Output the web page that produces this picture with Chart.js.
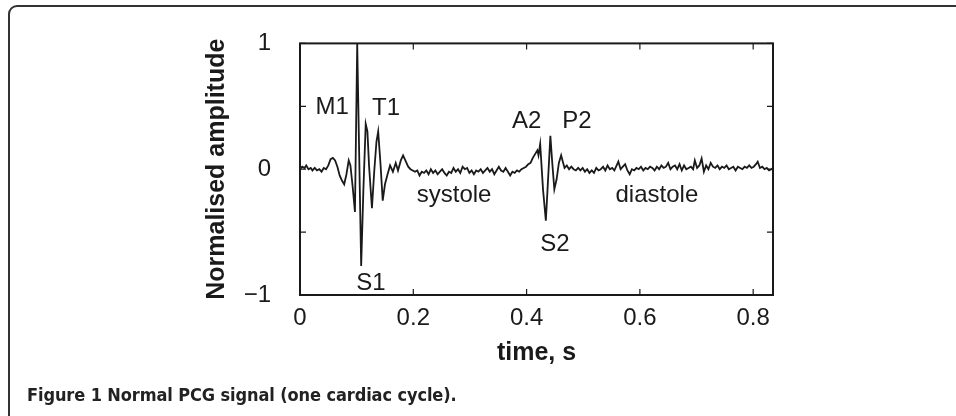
<!DOCTYPE html>
<html>
<head>
<meta charset="utf-8">
<script src="https://cdn.jsdelivr.net/npm/chart.js@4.4.1/dist/chart.umd.min.js"></script>
<style>
  html, body { margin: 0; padding: 0; background: #fff; }
  body { width: 956px; height: 416px; position: relative; overflow: hidden; }
  #frame {
    position: absolute; left: 8px; top: 5px; width: 1000px; height: 500px;
    border: 2px solid #333; border-radius: 9px; box-sizing: border-box;
  }
  #pcg { position: absolute; left: 0; top: 0; }
  #caption {
    position: absolute; left: 27px; top: 385px;
    font-family: "Liberation Sans Narrow", "DejaVu Sans Condensed", "Liberation Sans", sans-serif;
    font-weight: bold; font-size: 18px; line-height: 19px; color: #222;
    letter-spacing: -0.1px; white-space: nowrap;
  }
</style>
</head>
<body>
<div id="frame"></div>
<canvas id="pcg" width="956" height="416"></canvas>
<div id="caption">Figure 1 Normal PCG signal (one cardiac cycle).</div>

<script>
// time axis (s) and normalised amplitude
const timeS = [
  // before S1 and the S1 complex
  0.000, 0.004, 0.008, 0.011, 0.015, 0.019, 0.022, 0.026, 0.030, 0.034,
  0.038, 0.042, 0.046, 0.050, 0.054, 0.058, 0.062, 0.066, 0.070, 0.074,
  0.078, 0.082, 0.086, 0.089, 0.093, 0.097, 0.101, 0.108, 0.112, 0.116,
  0.119, 0.122, 0.127, 0.131, 0.135, 0.138, 0.142, 0.146, 0.150, 0.154,
  0.159, 0.164, 0.169, 0.173, 0.178, 0.182, 0.186, 0.191, 0.195,
  // systole
  0.199, 0.203, 0.207, 0.211, 0.215, 0.219, 0.223, 0.227, 0.231, 0.235,
  0.239, 0.243, 0.247, 0.251, 0.255, 0.259, 0.263, 0.267, 0.271, 0.275,
  0.279, 0.283, 0.287, 0.291, 0.295, 0.299, 0.303, 0.307, 0.311, 0.315,
  0.319, 0.323, 0.327, 0.331, 0.335, 0.339, 0.343, 0.347, 0.351, 0.355,
  0.359, 0.363, 0.367, 0.371, 0.375, 0.379, 0.383, 0.387,
  // S2 complex
  0.391, 0.395, 0.399, 0.403, 0.407, 0.411, 0.415, 0.419, 0.421, 0.424,
  0.429, 0.434, 0.437, 0.442, 0.445, 0.449, 0.453, 0.457, 0.461, 0.464,
  0.467, 0.471, 0.475, 0.479, 0.483, 0.487, 0.491,
  // diastole
  0.495, 0.499, 0.503, 0.507, 0.511, 0.515, 0.519, 0.523, 0.527, 0.531,
  0.535, 0.539, 0.543, 0.547, 0.551, 0.555, 0.559, 0.562, 0.566, 0.570,
  0.574, 0.578, 0.582, 0.586, 0.590, 0.594, 0.598, 0.602, 0.606, 0.610,
  0.614, 0.618, 0.622, 0.626, 0.630, 0.634, 0.638, 0.642, 0.646, 0.650,
  0.654, 0.658, 0.662, 0.666, 0.670, 0.674, 0.678, 0.682, 0.686, 0.690,
  0.694, 0.697, 0.701, 0.705, 0.709, 0.713, 0.717, 0.721, 0.725, 0.729,
  0.733, 0.737, 0.741, 0.745, 0.749, 0.753, 0.757, 0.761, 0.765, 0.769,
  0.773, 0.777, 0.781, 0.785, 0.789, 0.793, 0.797, 0.801, 0.805, 0.808,
  0.812, 0.816, 0.820, 0.824, 0.828, 0.832, 0.835
];

const amplitude = [
  0.00, 0.02, 0.01, 0.03, 0.00, 0.01, -0.01, 0.01, -0.01, 0.00,
  -0.02, 0.01, 0.00, 0.03, 0.08, 0.09, 0.07, 0.02, -0.05, -0.09,
  -0.12, -0.04, 0.07, 0.03, -0.14, -0.34, 1.00, -0.77, -0.15, 0.36,
  0.30, 0.02, -0.31, -0.02, 0.22, 0.30, 0.05, -0.25, -0.12, -0.05,
  0.03, -0.02, 0.05, -0.01, 0.07, 0.11, 0.07, 0.02, 0.00,

  -0.01, -0.02, -0.01, -0.05, -0.02, -0.03, -0.01, -0.04, 0.00, -0.03,
  -0.01, -0.04, -0.02, 0.00, -0.03, -0.05, -0.02, -0.03, 0.01, -0.02,
  0.00, -0.03, 0.02, 0.00, 0.01, -0.03, -0.01, -0.04, -0.01, -0.02,
  0.00, -0.03, -0.01, 0.01, -0.02, 0.00, -0.04, -0.01, 0.02, -0.01,
  -0.02, 0.01, -0.02, -0.05, -0.02, -0.03, -0.01, -0.02,

  0.00, 0.01, 0.02, 0.04, 0.05, 0.09, 0.12, 0.15, 0.11, 0.20,
  -0.16, -0.41, -0.16, 0.265, 0.07, -0.16, -0.08, 0.05, 0.11, 0.06,
  0.01, 0.03, 0.00, 0.02, 0.00, -0.01, 0.01,

  -0.01, 0.01, -0.02, 0.00, -0.03, -0.01, -0.03, 0.01, -0.01, 0.00,
  0.02, -0.01, 0.03, 0.00, 0.01, -0.01, 0.03, 0.06, 0.00, 0.02,
  0.04, -0.01, -0.04, 0.00, -0.01, 0.01, 0.00, 0.02, -0.01, 0.01,
  0.00, 0.02, 0.01, -0.01, 0.02, 0.00, 0.03, 0.01, 0.02, 0.05,
  0.00, 0.02, 0.03, 0.00, 0.04, -0.01, 0.03, 0.00, 0.01, 0.02,
  0.00, 0.07, 0.01, 0.03, 0.085, -0.02, 0.03, 0.00, 0.05, 0.02,
  0.01, 0.03, 0.00, 0.02, 0.01, 0.03, 0.00, 0.01, 0.02, -0.01,
  0.02, 0.01, 0.00, 0.02, 0.01, 0.03, 0.01, 0.02, 0.04, 0.06,
  0.01, 0.02, 0.00, 0.01, -0.01, 0.00, 0.01
];

const xTickValues = [0, 0.2, 0.4, 0.6, 0.8];
const xTickLabels = ['0', '0.2', '0.4', '0.6', '0.8'];
const yTickValues = [-1, -0.5, 0, 0.5, 1];
const yTickLabels = ['\u22121', '', '0', '', '1'];

// labels written inside the plot, anchored in data units
const noteText = ['M1', 'T1', 'S1', 'A2', 'P2', 'S2', 'systole', 'diastole'];
const noteTime = [0.057, 0.152, 0.125, 0.400, 0.489, 0.450, 0.272, 0.630];
const noteAmp  = [0.49, 0.48, -0.905, 0.38, 0.38, -0.60, -0.21, -0.21];

const INK = '#1a1a1a';

// MATLAB style box with inward ticks on all sides, plus text notes
const boxPlugin = {
  id: 'matlabBox',
  afterDatasetsDraw(chart) {
    const ctx = chart.ctx;
    const a = chart.chartArea;
    const xs = chart.scales.x, ys = chart.scales.y;
    const tick = 6;
    ctx.save();
    ctx.strokeStyle = INK;
    ctx.lineWidth = 2;
    ctx.strokeRect(a.left, a.top, a.right - a.left, a.bottom - a.top);
    ctx.lineWidth = 1.2;
    ctx.beginPath();
    xTickValues.forEach(v => {
      const px = xs.getPixelForValue(v);
      ctx.moveTo(px, a.bottom); ctx.lineTo(px, a.bottom - tick);
      ctx.moveTo(px, a.top); ctx.lineTo(px, a.top + tick);
    });
    yTickValues.forEach(v => {
      const py = ys.getPixelForValue(v);
      ctx.moveTo(a.left, py); ctx.lineTo(a.left + tick, py);
      ctx.moveTo(a.right, py); ctx.lineTo(a.right - tick, py);
    });
    ctx.stroke();

    ctx.fillStyle = INK;
    ctx.font = '24px "Liberation Sans", Arial, sans-serif';
    ctx.textAlign = 'center';
    ctx.textBaseline = 'middle';
    noteText.forEach((t, i) => {
      ctx.fillText(t, xs.getPixelForValue(noteTime[i]), ys.getPixelForValue(noteAmp[i]));
    });
    ctx.restore();
  }
};

const ctx = document.getElementById('pcg').getContext('2d');
const pcgChart = new Chart(ctx, {
  type: 'line',
  data: {
    datasets: [{
      data: timeS.map((t, i) => ({ x: t, y: amplitude[i] })),
      borderColor: INK,
      borderWidth: 1.8,
      pointRadius: 0,
      tension: 0,
      fill: false
    }]
  },
  options: {
    responsive: false,
    animation: false,
    devicePixelRatio: 1,
    layout: { padding: { left: 200, right: 183, top: 37, bottom: 41 } },
    plugins: { legend: { display: false }, tooltip: { enabled: false } },
    scales: {
      x: {
        type: 'linear',
        min: 0,
        max: 0.835,
        afterBuildTicks: s => { s.ticks = xTickValues.map(v => ({ value: v })); },
        afterFit: s => { s.height = 80; },
        grid: { display: false, drawTicks: false },
        border: { display: false },
        ticks: {
          padding: 9,
          color: INK,
          font: { family: '"Liberation Sans", Arial, sans-serif', size: 24 },
          maxRotation: 0,
          callback: (v, i) => xTickLabels[i]
        },
        title: {
          display: true,
          text: 'time, s',
          color: INK,
          padding: { top: 0, bottom: 7 },
          font: { family: '"Liberation Sans", Arial, sans-serif', size: 25, weight: 'bold' }
        }
      },
      y: {
        min: -1,
        max: 1,
        afterBuildTicks: s => { s.ticks = yTickValues.map(v => ({ value: v })); },
        afterFit: s => { s.width = 100; },
        grid: { display: false, drawTicks: false },
        border: { display: false },
        ticks: {
          padding: 29,
          color: INK,
          font: { family: '"Liberation Sans", Arial, sans-serif', size: 24 },
          callback: (v, i) => yTickLabels[i]
        },
        title: {
          display: true,
          text: 'Normalised amplitude',
          color: INK,
          padding: { top: 2, bottom: 0 },
          font: { family: '"Liberation Sans", Arial, sans-serif', size: 25, weight: 'bold' }
        }
      }
    }
  },
  plugins: [boxPlugin]
});
</script>
</body>
</html>
